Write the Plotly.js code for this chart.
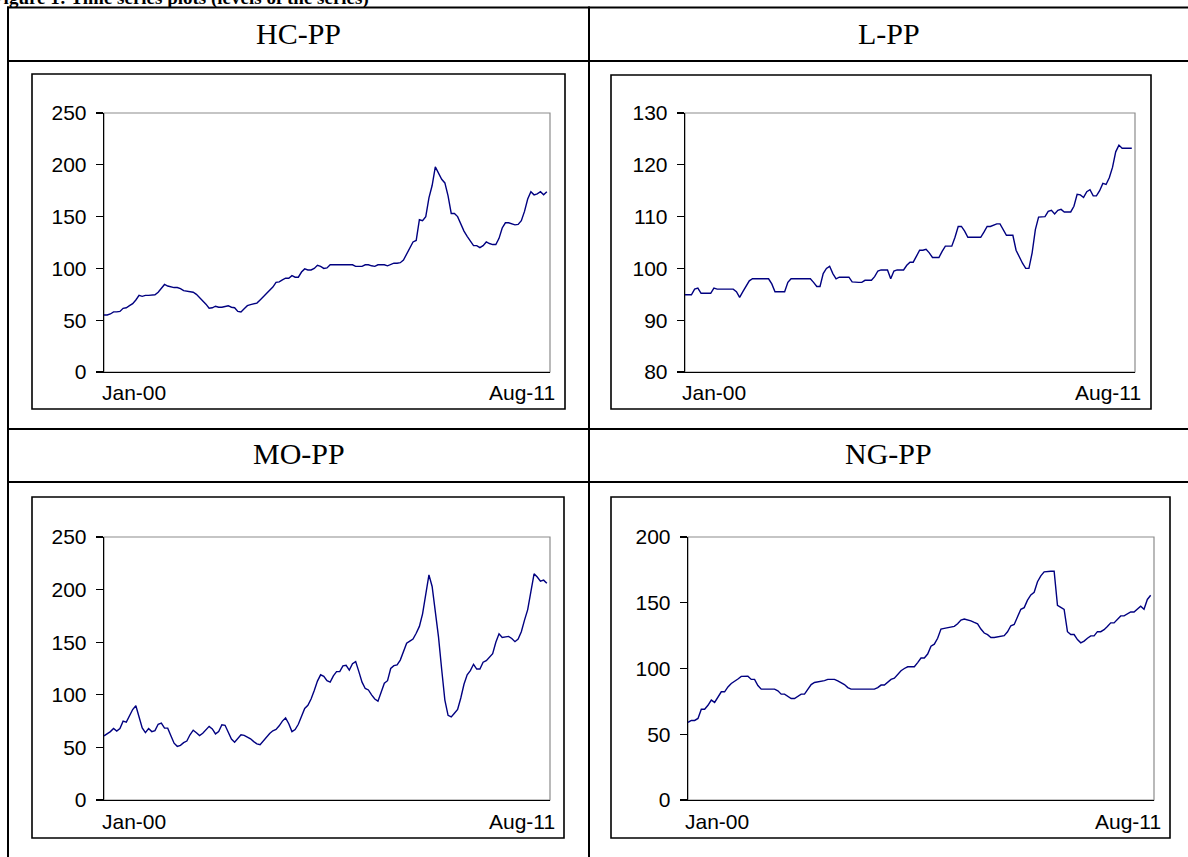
<!DOCTYPE html>
<html>
<head>
<meta charset="utf-8">
<script src="https://cdn.plot.ly/plotly-3.0.1.min.js"></script>
<style>
html,body{margin:0;padding:0;background:#fff;overflow:hidden;}
#wrap{position:relative;width:1188px;height:857px;overflow:hidden;}
#cap{position:absolute;left:-8px;top:-13px;font:bold 19px "Liberation Serif","Times New Roman",serif;color:#000;white-space:nowrap;}
#chart{position:absolute;left:0;top:0;width:1188px;height:857px;}
</style>
</head>
<body>
<div id="wrap">
<div id="chart"></div>
<div id="cap">Figure 1: Time series plots (levels of the series)</div>
</div>
<script>
// ---- data (monthly, Jan-00 .. Aug-11) ----
const panelTitles = ['HC-PP', 'L-PP', 'MO-PP', 'NG-PP'];
const xTickLabels = ['Jan-00', 'Aug-11'];

const hcPP = [55,55,56,58,58,58.5,61.5,62,64,66,69.5,74,73,74,74,74,74.5,77,81,84.5,
  83,82,81.5,81.5,80.5,78.5,78,78,77,75,72,69,65.5,61.5,62,63.5,62.5,62.5,63,64,
  62.5,62,58.5,58,61,64,65,65.5,66.5,69.5,72.5,75,78.5,82,86.5,87,89,90.5,90.5,93,
  91.5,91.5,96.5,99.5,98.5,98.5,100,103,102,100,100.5,103.5,103.5,103.5,103.5,103.5,103.5,103.5,103.5,102,
  102,102,103.5,103.5,102.5,102,103.5,103.5,103.5,102.5,104,105,105,105.5,108,114,120,125.5,127,147,
  146,150,168,180,198,192,186,182.5,170,153,153,150,142.5,136,131,126,122,122,120,122,
  125.5,124,123,123,129,139,144,144,143,142,142.5,146,155,167,174,171,172,174,171,174];

const lPP = [94.9,94.9,94.9,96,96.2,95.2,95.2,95.2,95.2,96.2,96,96,96,96,96,96,95.5,94.4,95.5,96.5,
  97.6,98,98,98,98,98,98,97,95.5,95.5,95.5,95.5,97.3,98,98,98,98,98,98,98,
  97.3,96.5,96.5,99,100,100.4,99,98,98.3,98.3,98.3,98.3,97.4,97.3,97.3,97.3,97.7,97.7,97.7,98.4,
  99.5,99.7,99.7,99.7,98,99.5,99.7,99.7,99.7,100.6,101.2,101.2,102.5,103.5,103.5,103.7,103,102.1,102.1,102.1,
  103.3,104.3,104.3,104.3,106,108.1,108.1,107.2,106,106,106,106,106,107,108.1,108.1,108.4,108.6,108.6,107.5,
  106.4,106.4,106.4,103.5,102.1,101,100,100,103,107.5,109.9,110,110,111,111.2,110.5,111.2,111.4,110.9,110.9,
  110.9,112,114.3,114.2,113.7,114.8,115.2,114,114,115,116.4,116.2,117.5,119.5,122.5,123.8,123.2,123.2,123.2,123.2];

const moPP = [61,63,65,68,65.5,68,75,74,80,86,89.6,80,68.5,64,68,65,66,72,73,68.3,
  68.3,61,54,51,52,54.5,56,62,66.4,64,61.3,63.5,67,70,67.5,62.8,65,71.5,71,64,
  58,55,58.6,62,61.5,59.8,58.2,55.5,53.4,52.5,56,60.5,63.2,65.8,67,70.5,75,78,72.5,65,
  67,72,80.5,87,90,96,104,113,119,117.5,113.5,112,118,122,122,127.5,128,123.5,129.5,131.5,
  122,112,106,104.6,100,96,94,103,111,113.4,125,127.7,128.5,133,142,149,151,153,158.5,165,
  177,197,214,203,180,155,124,95,80.5,79,82.5,86,97,110,119,123,129,124.5,124.5,131,
  132.5,136,139,150,158,154.5,155,155.5,153.5,150.5,153,160,171,181,198,215,212,208,209,206];

const ngPP = [59,60.5,60.5,62,69,69,72,76,74.2,78,82.3,82.3,86,88.6,90,92,94,94.2,94.2,91.7,
  91.7,87,84.3,84.3,84.3,84.3,84.3,83,80.5,80.5,78.5,77.2,77.2,79,80.5,80.5,84,87.8,89.4,89.9,
  89.9,90.8,91.7,91.7,91.7,90.5,89.2,87.8,85.5,84.3,84.3,84.3,84.3,84.3,84.3,84.3,84.3,85.5,87.4,87.4,
  89.8,91.7,92.6,95.7,98.3,100,101.3,101.3,101.3,104.5,108,108,111,117,118.5,123,130,130.5,131,131.5,
  132,134,136.8,137.6,137,136.2,135,134,130,127,125.7,123.6,123.6,124.2,124.8,125,127.9,132.5,133.5,140,
  145,146.3,152,156,158,166,170.5,173.5,174,174,174,148,146.5,145,128,125.8,125.8,122,119.5,120.8,
  123,124.8,124.8,128,128,129.5,132,134.7,134.7,137,140,140,141.5,143,143,145,147.3,145,152.5,155.7];

const seriesList = [hcPP, lPP, moPP, ngPP];
const yRanges = [[0,250],[80,130],[0,250],[0,200]];
const yDticks = [50, 10, 50, 50];

// ---- layout geometry (page pixels) ----
const W = 1188, H = 857;
const fx = p => p / W;
const fy = p => 1 - p / H;
const plotRects = [ [104,113,550,372], [685,113,1135,372], [104,537,550,800], [688,537,1154,800] ];
const boxRects  = [ [32,74,565,409], [611,75,1151,409], [32,497,564,838], [611,497,1170,838] ];
const janX = [100, 680, 100, 683];
const augX = [557, 1143, 557, 1163];
const lblY = [392, 392, 821, 821];
const titleX = [298.5, 888.5, 298.5, 888.5];
const titleY = [33, 33, 454, 454];

const traces = [];
const layout = {
  width: W, height: H,
  margin: {l:0, r:0, t:0, b:0},
  paper_bgcolor: '#fff', plot_bgcolor: 'rgba(0,0,0,0)',
  showlegend: false,
  shapes: [], annotations: []
};

seriesList.forEach((vals, i) => {
  const n = i + 1;
  const xs = vals.map((v, k) => k);
  traces.push({
    x: xs, y: vals, type: 'scatter', mode: 'lines',
    xaxis: 'x' + (n === 1 ? '' : n), yaxis: 'y' + (n === 1 ? '' : n),
    line: {color: '#000080', width: 1.4}, hoverinfo: 'skip'
  });
  const r = plotRects[i];
  const xa = {
    domain: [fx(r[0]), fx(r[2])], range: [0, 140],
    showgrid: false, zeroline: false, showticklabels: false, ticks: '',
    showline: true, linecolor: '#000', linewidth: 1.3,
    anchor: 'y' + (n === 1 ? '' : n), fixedrange: true
  };
  const ya = {
    domain: [fy(r[3]), fy(r[1])], range: yRanges[i], dtick: yDticks[i], tick0: 0,
    showgrid: false, zeroline: false,
    showline: true, linecolor: '#000', linewidth: 1.3,
    ticks: 'outside', ticklen: 7, tickwidth: 1.3, tickcolor: '#000',
    ticklabelstandoff: 5,
    tickfont: {family: 'Liberation Sans, Arial, sans-serif', size: 21, color: '#000'},
    anchor: 'x' + (n === 1 ? '' : n), fixedrange: true
  };
  layout['xaxis' + (n === 1 ? '' : n)] = xa;
  layout['yaxis' + (n === 1 ? '' : n)] = ya;

  // gray plot-area border (top/right visible)
  layout.shapes.push({type:'rect', xref:'paper', yref:'paper', layer:'below',
    x0: fx(r[0]), x1: fx(r[2]), y0: fy(r[3]), y1: fy(r[1]),
    line: {color:'#8c8c8c', width: 1.2}});
  // chart outer box
  const b = boxRects[i];
  layout.shapes.push({type:'rect', xref:'paper', yref:'paper', layer:'below',
    x0: fx(b[0]), x1: fx(b[2]), y0: fy(b[3]), y1: fy(b[1]),
    line: {color:'#000', width: 1.6}});

  // category labels
  layout.annotations.push({xref:'paper', yref:'paper', x: fx(janX[i]), y: fy(lblY[i]),
    xanchor:'left', yanchor:'middle', showarrow:false, text: xTickLabels[0],
    font:{family:'Liberation Sans, Arial, sans-serif', size:21, color:'#000'}});
  layout.annotations.push({xref:'paper', yref:'paper', x: fx(augX[i]), y: fy(lblY[i]),
    xanchor:'right', yanchor:'middle', showarrow:false, text: xTickLabels[1],
    font:{family:'Liberation Sans, Arial, sans-serif', size:21, color:'#000'}});
  // panel title
  layout.annotations.push({xref:'paper', yref:'paper', x: fx(titleX[i]), y: fy(titleY[i]),
    xanchor:'center', yanchor:'middle', showarrow:false, text: panelTitles[i],
    font:{family:'Liberation Serif, Times New Roman, serif', size:30, color:'#000'}});
});

// table lines
const hLines = [7.5, 61, 429, 482];
hLines.forEach(y => layout.shapes.push({type:'line', xref:'paper', yref:'paper',
  x0: fx(7), x1: fx(1190), y0: fy(y), y1: fy(y), line:{color:'#000', width:2}}));
[8, 589].forEach(x => layout.shapes.push({type:'line', xref:'paper', yref:'paper',
  x0: fx(x), x1: fx(x), y0: fy(6.5), y1: fy(860), line:{color:'#000', width:2}}));

Plotly.newPlot('chart', traces, layout, {displayModeBar:false, staticPlot:true});
</script>
</body>
</html>
